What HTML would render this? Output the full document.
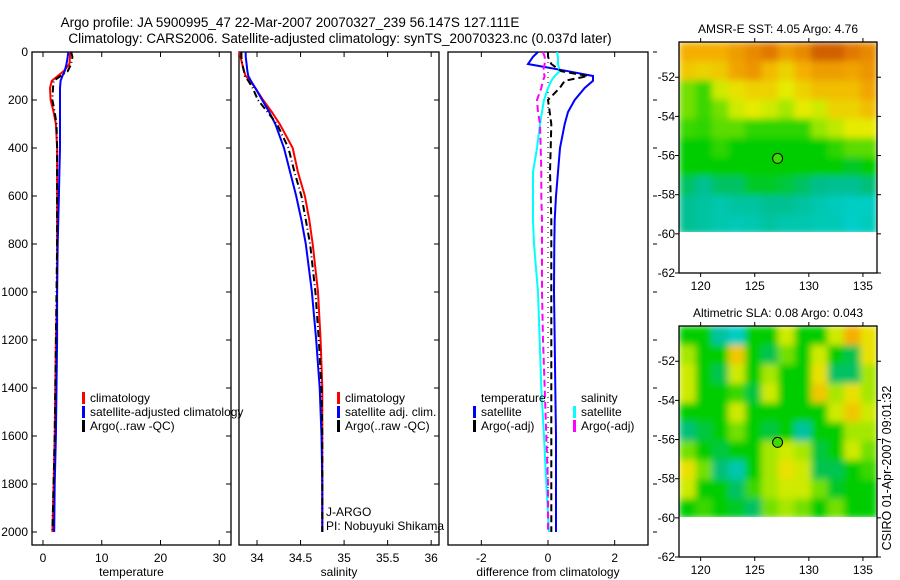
<!DOCTYPE html>
<html><head><meta charset="utf-8"><style>
body{margin:0;background:#fff}
svg{display:block;font-family:"Liberation Sans",sans-serif;font-size:12px}
</style></head><body>
<svg id="c" width="900" height="580" xmlns="http://www.w3.org/2000/svg">
<defs>
<filter id="blur" x="0" y="0" width="1" height="1"><feGaussianBlur stdDeviation="3.5" edgeMode="duplicate"/></filter>
<clipPath id="clipA"><rect x="679" y="42" width="198" height="190"/></clipPath>
<clipPath id="clipB"><rect x="679" y="326" width="198" height="191"/></clipPath>
</defs>
<text x="290" y="27" text-anchor="middle" font-size="13.5">Argo profile: JA 5900995_47 22-Mar-2007 20070327_239 56.147S 127.111E</text>
<text x="340" y="43" text-anchor="middle" font-size="13.5">Climatology: CARS2006. Satellite-adjusted climatology: synTS_20070323.nc (0.037d later)</text>
<text transform="translate(891,468) rotate(-90)" text-anchor="middle" font-size="12.5">CSIRO 01-Apr-2007 09:01:32</text>
<g id="g"></g>
</svg>
<script>
const depths=[0,20,50,80,100,120,150,200,250,300,400,500,600,700,800,1000,1200,1400,1600,1800,2000];
const tempClim=[4.6,4.6,4.5,3.5,2.5,1.5,1.2,1.3,1.8,2.2,2.4,2.4,2.4,2.4,2.4,2.4,2.2,2.1,2.0,1.8,1.6];
const tempSat=[4.3,4.2,4.0,3.7,3.3,3.0,2.9,2.9,2.9,2.9,2.9,2.8,2.7,2.6,2.5,2.4,2.4,2.3,2.2,2.0,1.9];
const tempArgo=[4.8,5.0,4.8,4.2,3.0,1.8,1.7,1.6,2.0,2.3,2.4,2.4,2.4,2.4,2.4,2.3,2.2,2.1,2.0,1.8,1.6];
const salClim=[33.80,33.81,33.83,33.85,33.87,33.92,33.98,34.07,34.17,34.26,34.41,34.47,34.55,34.60,34.64,34.70,34.73,34.75,34.75,34.75,34.75];
const salSat=[33.87,33.87,33.88,33.89,33.90,33.93,33.98,34.06,34.14,34.21,34.31,34.38,34.45,34.51,34.56,34.63,34.68,34.72,34.74,34.75,34.75];
const salArgo=[33.82,33.82,33.83,33.85,33.86,33.90,33.95,34.01,34.12,34.23,34.36,34.43,34.51,34.56,34.61,34.67,34.71,34.74,34.75,34.75,34.75];
const diffTSat=[-0.3,-0.45,-0.6,0.6,1.35,1.35,1.1,0.8,0.6,0.5,0.36,0.3,0.24,0.2,0.19,0.18,0.2,0.22,0.24,0.24,0.24];
const diffSSat=[0.27,0.3,0.3,0.35,0.2,0.1,0.0,-0.12,-0.18,-0.24,-0.33,-0.45,-0.45,-0.45,-0.42,-0.3,-0.25,-0.2,-0.12,-0.05,0.03];
const diffTArgo=[0.0,0.0,0.1,0.4,1.2,0.5,0.35,0.0,0.05,0.1,0.08,0.06,0.08,0.1,0.1,0.1,0.1,0.1,0.1,0.1,0.1];
const diffSArgo=[-0.15,-0.1,-0.1,-0.15,-0.1,-0.15,-0.2,-0.33,-0.3,-0.24,-0.22,-0.2,-0.2,-0.18,-0.18,-0.18,-0.15,-0.1,-0.05,0.0,0.0];
const depthTicks=[0,200,400,600,800,1000,1200,1400,1600,1800,2000];
const tempTicks=[0,10,20,30];
const salTicks=[34,34.5,35,35.5,36];
const diffTicks=[-2,0,2];
const latTicks=[-52,-54,-56,-58,-60,-62];
const lonTicks=[120,125,130,135];
const sstGrid=[
[6.5,6.5,6.5,7,7.5,8,7,7.5,8.5,8.5,8,7.5],
[6,5.8,6,6.8,7.2,6.3,5.8,6.5,7,7,6.8,7.2],
[4,3.5,5,5.5,5.8,5.8,5.3,5.8,6.2,6.2,6.2,6.8],
[4,3.5,4,5,5.3,5,4.5,5.3,5,5.8,5.8,6.2],
[3.5,3.4,3.8,3.8,3.4,3.4,3.4,3.4,4.3,4.8,5.3,5.3],
[3,3,3.4,3,3,3,3,3,3,3.4,3.8,3.8],
[3,3,3,3,3,3,3,3,3,3,2.8,3],
[2.5,2.2,2.5,2.5,2.8,2.8,2.7,2.5,2.3,2.2,2.2,2.4],
[2.2,2,1.8,2,2,2.2,2.2,2,1.8,1.6,1.5,1.5],
[2.2,2,1.8,1.7,1.8,2,1.8,1.8,1.7,1.7,1.4,1.6]];
const slaGrid=[
[3,3,2,1.5,3,3,5,3,3,5,6.5,5.5],
[4.5,3,3,6,3,2.6,4,3,5,3,2.6,5.5],
[5,3,2.6,5,3,4.5,3,3,5.5,2.5,2.5,4.5],
[5,3,3,3.5,2.7,5,3,3,6,4.5,5.5,4.5],
[3,3,3,5,3,3,3,3,3,5,6,5],
[2.4,2.7,3,4,3,2.7,3,2,3,3,4.5,4.5],
[4,3,2.7,3,3,4.5,5,4.5,2.7,3,5,4],
[5.5,4,2.4,1.8,3,4.5,5.5,5,2.6,2.6,3,3.5],
[5,3,3,2.5,3.5,4.5,5,5,4,2.8,3,3],
[3,3.5,3,2.8,2.5,4,4.5,4,3,4,3,3]];
const floatLon=127.111, floatLat=-56.147;

const NS="http://www.w3.org/2000/svg";
const G=document.getElementById('g');
function mk(tag,attrs,parent){const e=document.createElementNS(NS,tag);for(const k in attrs)e.setAttribute(k,attrs[k]);(parent||G).appendChild(e);return e;}
const yD=d=>52+d*0.24;
const panels=[
 {x0:32,x1:231,v0:-1.87,v1:32.0,ticks:tempTicks,lab:'temperature',name:'temperature'},
 {x0:239,x1:439,v0:33.793,v1:36.09,ticks:salTicks,lab:'salinity',name:'salinity'},
 {x0:448,x1:648,v0:-3.0,v1:3.0,ticks:diffTicks,lab:'difference from climatology',name:'difference'}];
panels.forEach(p=>{p.sx=v=>p.x0+(v-p.v0)/(p.v1-p.v0)*(p.x1-p.x0);});
const B=545;
panels.forEach((p,i)=>{
 const r=mk('rect',{x:p.x0,y:52,width:p.x1-p.x0,height:B-52,fill:'none',stroke:'#000','stroke-width':1.3});
 
 
 p.ticks.forEach(t=>{const x=p.sx(t);
  mk('line',{x1:x,x2:x,y1:B,y2:B-5,stroke:'#000'});mk('line',{x1:x,x2:x,y1:52,y2:57,stroke:'#000'});
  const tx=mk('text',{x:x,y:B+17,'text-anchor':'middle'});tx.textContent=t;
  
  });
 const xl=mk('text',{x:(p.x0+p.x1)/2,y:B+31,'text-anchor':'middle'});xl.textContent=p.lab;
 
 
 depthTicks.forEach(d=>{const y=yD(d);
  if(i<2){mk('line',{x1:p.x1,x2:p.x1-5,y1:y,y2:y,stroke:'#000'});}
  if(i==0){mk('line',{x1:p.x0,x2:p.x0+5,y1:y,y2:y,stroke:'#000'});
   const t=mk('text',{x:28,y:y+4,'text-anchor':'end'});t.textContent=d;
   
   }
  if(i==2){mk('line',{x1:p.x1+5,x2:p.x1+9,y1:y,y2:y,stroke:'#000'});}
 });
});
function line(p,vals,color,name,dash,w){
 const pts=vals.map((v,k)=>p.sx(v).toFixed(1)+','+yD(depths[k]).toFixed(1)).join(' ');
 const e=mk('polyline',{points:pts,fill:'none',stroke:color,'stroke-width':w||2,'stroke-dasharray':dash||'none'});
 
 
}
const DD='7,3,1,3';
line(panels[0],tempClim,'#f00','temp-climatology-line');
line(panels[0],tempSat,'#00f','temp-satellite-line');
line(panels[0],tempArgo,'#000','temp-argo-line',DD);
line(panels[1],salClim,'#f00','sal-climatology-line');
line(panels[1],salSat,'#00f','sal-satellite-line');
line(panels[1],salArgo,'#000','sal-argo-line',DD);
const zl=mk('line',{x1:panels[2].sx(0),x2:panels[2].sx(0),y1:52,y2:yD(2000),stroke:'#000','stroke-dasharray':'1,4'});


line(panels[2],diffTSat,'#00f','diff-temp-satellite-line');
line(panels[2],diffSSat,'#0ff','diff-sal-satellite-line');
line(panels[2],diffTArgo,'#000','diff-temp-argo-line','7,4');
line(panels[2],diffSArgo,'#f0f','diff-sal-argo-line','7,4');

function legend(x,y,color,text,name){
 if(color){const m=mk('rect',{x:x-8,y:y-10,width:3,height:12,fill:color});
  
  }
 const t=mk('text',{x:x,y:y});t.textContent=text;
 
 
}
legend(90,402,'#f00','climatology','legend-temp-climatology');
legend(90,416,'#00f','satellite-adjusted climatology','legend-temp-satellite');
legend(90,430,'#000','Argo(..raw -QC)','legend-temp-argo');
legend(345,402,'#f00','climatology','legend-sal-climatology');
legend(345,416,'#00f','satellite adj. clim.','legend-sal-satellite');
legend(345,430,'#000','Argo(..raw -QC)','legend-sal-argo');
legend(326,516,null,'J-ARGO','legend-program');
legend(326,530,null,'PI: Nobuyuki Shikama','legend-pi');
legend(481,402,null,'temperature','legend-diff-temperature-header');
legend(481,416,'#00f','satellite','legend-diff-temp-satellite');
legend(481,430,'#000','Argo(-adj)','legend-diff-temp-argo');
legend(581,402,null,'salinity','legend-diff-salinity-header');
legend(581,416,'#0ff','satellite','legend-diff-sal-satellite');
legend(581,430,'#f0f','Argo(-adj)','legend-diff-sal-argo');
const cstops=[[1.2,[0,210,215]],[2.3,[0,190,140]],[3,[0,205,0]],[4.3,[150,230,0]],[5.3,[230,235,0]],[6.5,[245,175,0]],[8,[225,120,0]],[9.5,[175,50,0]]];
function cmap(v){if(v<=cstops[0][0])return cstops[0][1];
 for(let i=1;i<cstops.length;i++){if(v<=cstops[i][0]){const a=cstops[i-1],b=cstops[i];const f=(v-a[0])/(b[0]-a[0]);
  return a[1].map((c,k)=>Math.round(c+(b[1][k]-c)*f));}}return cstops[cstops.length-1][1];}
function map(top,grid,title,name,clip){
 const x0=679,x1=877,bot=top+231;
 const sx=lon=>x0+(lon-118)/(136.3-118)*(x1-x0);
 const sy=lat=>top+(-50.2-lat)/(62-50.2)*(bot-top);
 const t=mk('text',{x:(x0+x1)/2,y:top-9,'text-anchor':'middle'});t.textContent=title;
 
 
 const cg=mk('g',{'clip-path':'url(#'+clip+')'});
 const bg=mk('g',{filter:'url(#blur)'},cg);
 
 
 const rows=grid.length,cols=grid[0].length;
 grid.forEach((row,r)=>row.forEach((v,c)=>{
  const la0=-50.2-r*(9.8/rows),la1=-50.2-(r+1)*(9.8/rows);
  const lo0=118+c*(18.3/cols),lo1=118+(c+1)*(18.3/cols);
  const col=cmap(v);
  const e=mk('rect',{x:sx(lo0),y:sy(la0),width:sx(lo1)-sx(lo0)+0.6,height:sy(la1)-sy(la0)+0.6,fill:`rgb(${col})`},bg);
  
  
 }));
 const f=mk('rect',{x:x0,y:top,width:x1-x0,height:bot-top,fill:'none',stroke:'#000','stroke-width':1.3});
 
 
 latTicks.forEach(l=>{const y=sy(l);
  mk('line',{x1:x0-4,x2:x0,y1:y,y2:y,stroke:'#000'});mk('line',{x1:x1,x2:x1+4,y1:y,y2:y,stroke:'#000'});
  const tt=mk('text',{x:675,y:y+4,'text-anchor':'end'});tt.textContent=l;
  
  });
 lonTicks.forEach(l=>{const x=sx(l);
  mk('line',{x1:x,x2:x,y1:bot,y2:bot+4,stroke:'#000'});mk('line',{x1:x,x2:x,y1:top-4,y2:top,stroke:'#000'});
  const tt=mk('text',{x:x,y:bot+17,'text-anchor':'middle'});tt.textContent=l;
  
  });
 const m=mk('circle',{cx:sx(floatLon),cy:sy(floatLat),r:5,fill:'rgb(60,220,0)',stroke:'#000','stroke-width':1});
 
 
}
map(42,sstGrid,'AMSR-E SST: 4.05 Argo: 4.76','sst-map','clipA');
map(326,slaGrid,'Altimetric SLA: 0.08 Argo: 0.043','sla-map','clipB');
</script>
</body></html>
